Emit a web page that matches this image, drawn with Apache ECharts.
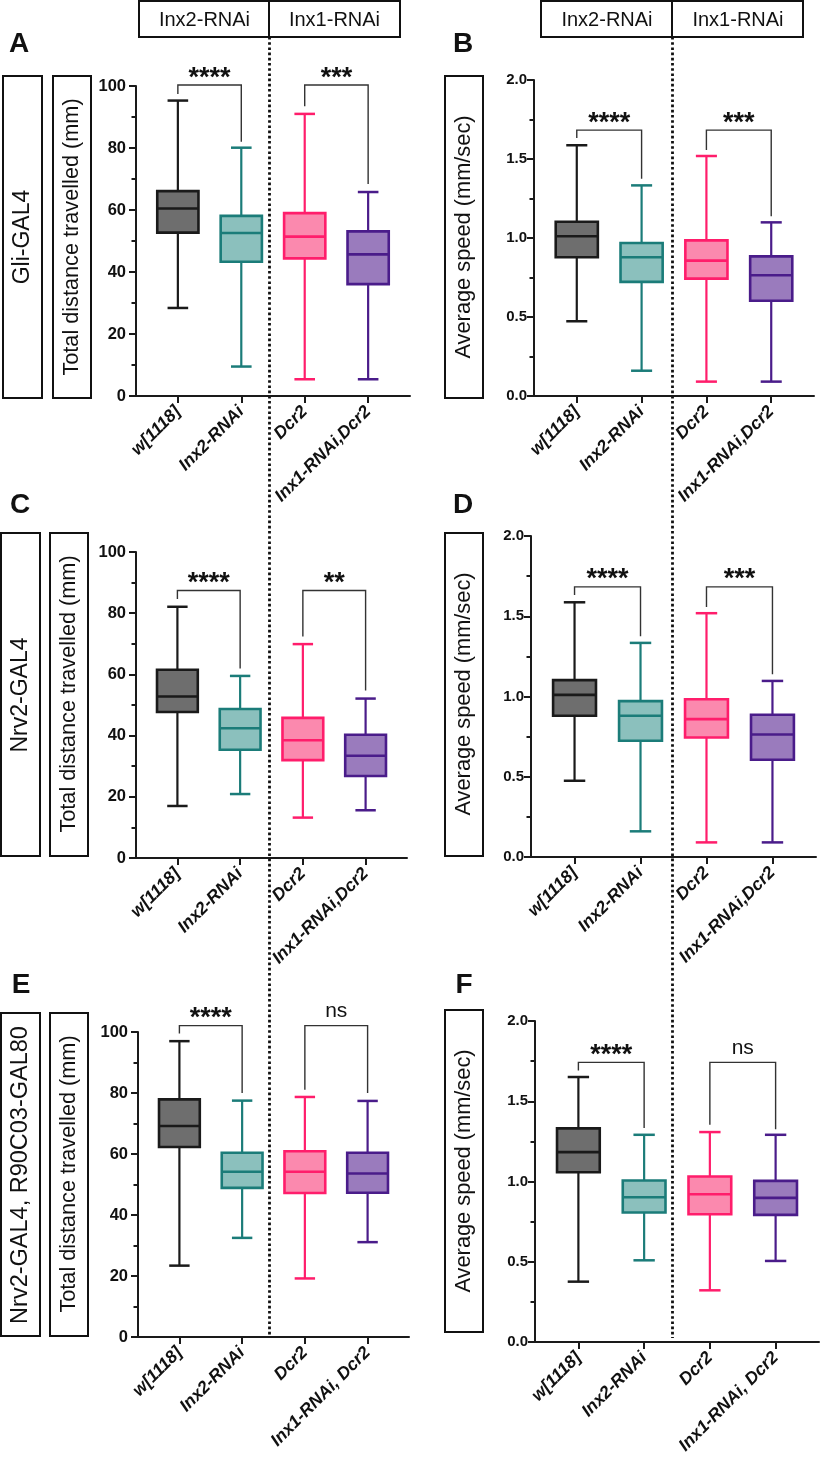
<!DOCTYPE html>
<html>
<head>
<meta charset="utf-8">
<title>Inx2 / Inx1 RNAi locomotion</title>
<script src="https://cdn.jsdelivr.net/npm/echarts@6/dist/echarts.min.js"></script>
<style>
  html, body { margin: 0; padding: 0; background: #fff; }
  #chart { width: 820px; height: 1462px; }
</style>
</head>
<body>
<div id="chart"></div>
<script>
// genotypes on the x axis
var genotypes = ['w[1118]', 'Inx2-RNAi', 'Dcr2', 'Inx1-RNAi,Dcr2'];
var genotypesEF = ['w[1118]', 'Inx2-RNAi', 'Dcr2', 'Inx1-RNAi, Dcr2'];

// box values per genotype: [min, Q1, median, Q3, max]
var distGli = [[28.4, 52.7, 60.5, 66.1, 95.3], [9.5, 43.3, 52.6, 58.1, 80.1], [5.4, 44.4, 51.4, 59.0, 91.0], [5.4, 36.1, 45.7, 53.1, 65.8]];
var speedGli = [[0.473, 0.878, 1.011, 1.103, 1.587], [0.160, 0.722, 0.878, 0.968, 1.333], [0.091, 0.743, 0.857, 0.985, 1.519], [0.091, 0.603, 0.764, 0.884, 1.099]];
var distNrv2 = [[17.0, 47.7, 52.8, 61.5, 82.1], [20.9, 35.4, 42.4, 48.7, 59.5], [13.2, 32.0, 38.5, 45.8, 69.9], [15.6, 26.8, 33.4, 40.3, 52.1]];
var speedNrv2 = [[0.475, 0.880, 1.010, 1.102, 1.587], [0.160, 0.724, 0.880, 0.971, 1.334], [0.091, 0.745, 0.859, 0.983, 1.519], [0.091, 0.606, 0.763, 0.886, 1.097]];
var distNrv2Gal80 = [[23.4, 62.3, 69.2, 77.9, 97.0], [32.5, 48.9, 54.2, 60.4, 77.5], [19.2, 47.2, 54.2, 60.9, 78.7], [31.1, 47.3, 53.6, 60.4, 77.4]];
var speedNrv2Gal80 = [[0.376, 1.058, 1.183, 1.331, 1.651], [0.509, 0.807, 0.902, 1.006, 1.291], [0.322, 0.796, 0.921, 1.031, 1.308], [0.505, 0.792, 0.898, 1.004, 1.291]];

// significance brackets: [group a, group b, bar level, end of left leg, end of right leg]
var sigGliDist = [[0, 1, 100.3, 97.4, 82.0], [2, 3, 100.3, 93.5, 68.4]];
var sigGliSpeed = [[0, 1, 1.683, 1.633, 1.375], [2, 3, 1.683, 1.557, 1.138]];
var sigNrv2Dist = [[0, 1, 87.4, 84.6, 61.9], [2, 3, 87.4, 72.4, 54.7]];
var sigNrv2Speed = [[0, 1, 1.683, 1.633, 1.375], [2, 3, 1.683, 1.557, 1.138]];
var sigGal80Dist = [[0, 1, 102.1, 99.5, 80.0], [2, 3, 102.1, 81.1, 80.0]];
var sigGal80Speed = [[0, 1, 1.742, 1.692, 1.333], [2, 3, 1.742, 1.353, 1.326]];
var starsGli = ['****', '***'];
var starsNrv2Dist = ['****', '**'];
var starsNrv2Speed = ['****', '***'];
var starsGal80 = ['****', 'ns'];

// y axis ticks
var distTicks = { max: 100, interval: 20 };
var speedTicks = { max: 2, interval: 0.5 };

var fills = ['#6e6e6e', '#8bc0bd', '#fb89ae', '#9a7bbd'];
var strokes = ['#1a1a1a', '#1b7c79', '#ff1d6b', '#4a1c8a'];
var FONT = '"Liberation Sans", Arial, sans-serif';

var panels = [
  { grid: { left: 136, top: 86, width: 274, height: 310 }, box: distGli, sig: sigGliDist, stars: starsGli, ax: distTicks, cats: genotypes },
  { grid: { left: 534, top: 80, width: 280, height: 316 }, box: speedGli, sig: sigGliSpeed, stars: starsGli, ax: speedTicks, cats: genotypes },
  { grid: { left: 136, top: 552, width: 271, height: 306 }, box: distNrv2, sig: sigNrv2Dist, stars: starsNrv2Dist, ax: distTicks, cats: genotypes },
  { grid: { left: 531, top: 536, width: 285, height: 321 }, box: speedNrv2, sig: sigNrv2Speed, stars: starsNrv2Speed, ax: speedTicks, cats: genotypes },
  { grid: { left: 138, top: 1032, width: 271, height: 305 }, box: distNrv2Gal80, sig: sigGal80Dist, stars: starsGal80, ax: distTicks, cats: genotypesEF },
  { grid: { left: 535, top: 1021, width: 284, height: 321 }, box: speedNrv2Gal80, sig: sigGal80Speed, stars: starsGal80, ax: speedTicks, cats: genotypesEF }
];

function renderBox(params, api) {
  var x = api.value(0);
  var lo = api.coord([x, api.value(1)]);
  var q1 = api.coord([x, api.value(2)]);
  var md = api.coord([x, api.value(3)]);
  var q3 = api.coord([x, api.value(4)]);
  var hi = api.coord([x, api.value(5)]);
  var w = api.size([0.65, 0])[0];
  var cx = lo[0];
  var i = params.dataIndex;
  function seg(x1, y1, x2, y2, lw) {
    return { type: 'line', shape: { x1: x1, y1: y1, x2: x2, y2: y2 }, style: { stroke: strokes[i], lineWidth: lw } };
  }
  return {
    type: 'group',
    children: [
      seg(cx, hi[1], cx, q3[1], 2.2),
      seg(cx, q1[1], cx, lo[1], 2.2),
      seg(cx - w / 4, hi[1], cx + w / 4, hi[1], 2.5),
      seg(cx - w / 4, lo[1], cx + w / 4, lo[1], 2.5),
      { type: 'rect', shape: { x: cx - w / 2, y: q3[1], width: w, height: q1[1] - q3[1] }, style: { fill: fills[i], stroke: strokes[i], lineWidth: 2.6 } },
      seg(cx - w / 2, md[1], cx + w / 2, md[1], 2.6)
    ]
  };
}

function makeSig(texts) {
  return function (params, api) {
    var a = api.coord([api.value(0), api.value(2)]);
    var b = api.coord([api.value(1), api.value(2)]);
    var la = api.coord([api.value(0), api.value(3)]);
    var lb = api.coord([api.value(1), api.value(4)]);
    var t = texts[params.dataIndex];
    var ns = t === 'ns';
    return {
      type: 'group',
      children: [
        { type: 'polyline', shape: { points: [la, a, b, lb] }, style: { stroke: '#333', lineWidth: 1.4, fill: 'none' } },
        { type: 'text', x: (a[0] + b[0]) / 2, y: a[1] - (ns ? 14 : 7),
          style: { text: t, font: ns ? '21px ' + FONT : 'bold 27px ' + FONT, fill: '#111', align: 'center', verticalAlign: 'middle' } }
      ]
    };
  };
}

var option = { animation: false, grid: [], xAxis: [], yAxis: [], series: [], graphic: [] };

panels.forEach(function (p, k) {
  option.grid.push(p.grid);
  var cats = p.cats;
  var speed = p.ax.max === 2;
  option.xAxis.push({
    type: 'value', gridIndex: k, min: -0.66, max: 3.66,
    splitLine: { show: false },
    axisLine: { show: true, onZero: false, lineStyle: { color: '#1a1a1a', width: 2 } },
    axisTick: { show: true, customValues: [0, 1, 2, 3], length: 7, lineStyle: { color: '#1a1a1a', width: 2 } },
    axisLabel: {
      customValues: [0, 1, 2, 3], rotate: 45, margin: 13,
      fontFamily: FONT, fontSize: 17.5, fontWeight: 'bold', fontStyle: 'italic', color: '#111',
      formatter: function (v) { return cats[v]; }
    }
  });
  option.yAxis.push({
    type: 'value', gridIndex: k, min: 0, max: p.ax.max, interval: p.ax.interval,
    splitLine: { show: false },
    axisLine: { show: true, onZero: false, lineStyle: { color: '#1a1a1a', width: 2 } },
    axisTick: { show: true, length: 7, lineStyle: { color: '#1a1a1a', width: 2 } },
    minorTick: { show: true, splitNumber: 2, length: 4.5, lineStyle: { color: '#1a1a1a', width: 2 } },
    axisLabel: {
      margin: speed ? 7 : 10, fontFamily: FONT, fontSize: speed ? 15 : 16.5, fontWeight: 'bold', color: '#111',
      formatter: function (v) { return speed ? v.toFixed(1) : String(v); }
    }
  });
  option.series.push({
    type: 'custom', xAxisIndex: k, yAxisIndex: k, clip: false,
    renderItem: renderBox,
    encode: { x: 0, y: [1, 2, 3, 4, 5] },
    data: p.box.map(function (b, i) { return [i].concat(b); })
  });
  option.series.push({
    type: 'custom', xAxisIndex: k, yAxisIndex: k, clip: false,
    renderItem: makeSig(p.stars),
    encode: { x: [0, 1], y: [2, 3, 4] },
    data: p.sig
  });
});

// header boxes, label boxes, panel letters, group separators
function box(x, y, w, h) {
  return { type: 'rect', shape: { x: x, y: y, width: w, height: h }, style: { fill: 'none', stroke: '#111', lineWidth: 2 } };
}
function vtext(x, y, t, size) {
  return { type: 'text', x: x, y: y, rotation: Math.PI / 2, style: { text: t, font: size + 'px ' + FONT, fill: '#111', align: 'center', verticalAlign: 'middle' } };
}
function htext(x, y, t, font) {
  return { type: 'text', x: x, y: y, style: { text: t, font: font, fill: '#111', align: 'center', verticalAlign: 'middle' } };
}
var g = option.graphic;
[[139, 269, 400, 204.5, 334.5], [541, 672, 803, 607, 738]].forEach(function (h) {
  g.push(box(h[0], 1, h[2] - h[0], 36));
  g.push({ type: 'line', shape: { x1: h[1], y1: 1, x2: h[1], y2: 37 }, style: { stroke: '#111', lineWidth: 2 } });
  g.push(htext(h[3], 20, 'Inx2-RNAi', '20px ' + FONT));
  g.push(htext(h[4], 20, 'Inx1-RNAi', '20px ' + FONT));
});
g.push({ type: 'line', shape: { x1: 269.5, y1: 37, x2: 269.5, y2: 1336 }, style: { stroke: '#111', lineWidth: 2.8, lineDash: [2.6, 2.6] } });
g.push({ type: 'line', shape: { x1: 672.5, y1: 37, x2: 672.5, y2: 1338 }, style: { stroke: '#111', lineWidth: 2.8, lineDash: [2.6, 2.6] } });

g.push(box(3, 76, 39, 322), vtext(22.5, 237, 'Gli-GAL4', 23));
g.push(box(53, 76, 38, 322), vtext(72, 237, 'Total distance travelled (mm)', 21.7));
g.push(box(445, 76, 38, 322), vtext(464, 237, 'Average speed (mm/sec)', 21.8));
g.push(box(1, 533, 39, 323), vtext(20.5, 695, 'Nrv2-GAL4', 23));
g.push(box(50, 533, 38, 323), vtext(69, 694, 'Total distance travelled (mm)', 21.7));
g.push(box(445, 533, 38, 323), vtext(464, 694, 'Average speed (mm/sec)', 21.8));
g.push(box(1, 1013, 39, 323), vtext(20.5, 1175, 'Nrv2-GAL4, R90C03-GAL80', 23.5));
g.push(box(50, 1013, 38, 323), vtext(69, 1174, 'Total distance travelled (mm)', 21.7));
g.push(box(445, 1010, 38, 322), vtext(464, 1171, 'Average speed (mm/sec)', 21.8));

[['A', 19, 44], ['B', 463, 44], ['C', 20, 505], ['D', 463, 505], ['E', 21, 985], ['F', 464, 985]].forEach(function (l) {
  g.push(htext(l[1], l[2], l[0], 'bold 28px ' + FONT));
});

var chart = echarts.init(document.getElementById('chart'));
chart.setOption(option);
</script>
</body>
</html>
